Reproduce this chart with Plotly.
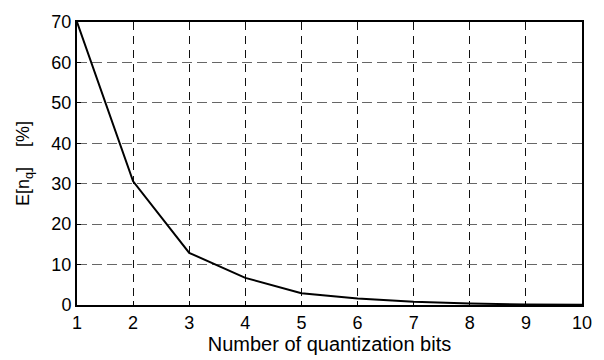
import plotly.graph_objects as go

bits = [1, 2, 3, 4, 5, 6, 7, 8, 9, 10]
error_pct = [70, 30.6, 12.9, 6.7, 2.9, 1.6, 0.8, 0.35, 0.15, 0.05]
x_ticks = [1, 2, 3, 4, 5, 6, 7, 8, 9, 10]
y_ticks = [0, 10, 20, 30, 40, 50, 60, 70]

fig = go.Figure()
fig.add_trace(go.Scatter(x=bits, y=error_pct, mode="lines",
                         line=dict(color="black", width=2), showlegend=False))

font = dict(family="Liberation Sans, Arial, sans-serif", size=18, color="black")
fig.update_layout(
    width=604, height=360,
    margin=dict(l=77, r=12, t=12, b=54),
    paper_bgcolor="white", plot_bgcolor="white",
    font=font,
)
fig.update_xaxes(
    range=[1, 10], tickvals=x_ticks, ticktext=[str(v) for v in x_ticks],
    showgrid=True, gridcolor="#111", griddash="8px,6px", gridwidth=1,
    showline=True, linecolor="black", linewidth=2, mirror=True,
    ticks="inside", ticklen=4, tickcolor="black",
    zeroline=False, tickfont=dict(size=18),
    title=dict(text="Number of quantization bits", font=dict(size=20), standoff=1),
)
fig.update_yaxes(
    range=[0, 70], tickvals=y_ticks, ticktext=[str(v) for v in y_ticks],
    showgrid=True, gridcolor="#666", griddash="10px,5px", gridwidth=1,
    showline=True, linecolor="black", linewidth=2, mirror=True,
    ticks="inside", ticklen=4, tickcolor="black",
    zeroline=False, tickfont=dict(size=18),
    title=dict(text="E[n<sub>q</sub>]\u00a0\u00a0\u00a0\u00a0[%]", font=dict(size=18), standoff=17),
)
fig.write_html("out.html")
